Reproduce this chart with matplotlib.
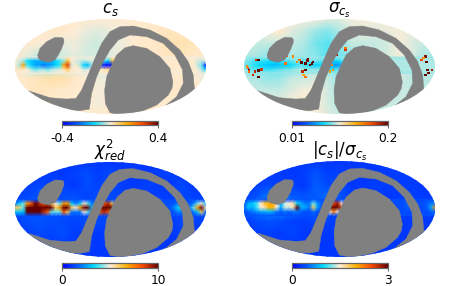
import numpy as np
import matplotlib
matplotlib.use('Agg')
import matplotlib.pyplot as plt
from matplotlib.colors import LinearSegmentedColormap, Normalize, LogNorm
from matplotlib.patches import Ellipse, Polygon

W, H = 449, 286

# planck style colour table
planck = LinearSegmentedColormap.from_list('planck', [
    (0.0, (0, 0, 1)), (0.16, (0, 0.35, 1)), (0.33, (0, 0.87, 1)), (0.5, (1, 0.93, 0.85)),
    (0.67, (1, 0.7, 0)), (0.83, (1, 0.29, 0)), (1.0, (0.39, 0, 0))])

# mask outlines, read in panel 1 of the 3x zoom: centre (331,200), semi axes 286,143
island_x = [187, 165, 140, 120, 113, 115, 124, 145, 165, 176, 184, 192, 191]
island_y = [113, 112, 125, 145, 165, 175, 182, 187, 180, 163, 148, 127, 116]
dshape_x = [400, 440, 480, 510, 519, 516, 505, 470, 430, 370, 330, 316, 314, 320, 335, 350, 375]
dshape_y = [137, 145, 170, 205, 245, 265, 285, 315, 332, 345, 338, 310, 270, 230, 195, 165, 143]
band_x = [85, 150, 200, 228, 245, 262, 285, 305, 330, 360, 400, 450, 500, 540, 565, 580, 583, 600,
          490, 530, 550, 548, 525, 490, 440, 390, 355, 330, 310, 290, 275, 268, 240, 180, 130]
band_y = [272, 293, 297, 295, 270, 230, 175, 130, 95, 80, 78, 90, 115, 150, 185, 225, 262, 300,
          322, 290, 250, 210, 165, 130, 110, 105, 120, 150, 185, 230, 280, 327, 332, 330, 312]

bg_y = [1, 0.75, 0.5, 0.25, 0, -0.25, -0.5, -0.75, -1]
plane_y = [0.2, 0.12, 0.03, -0.06, -0.14]

cs_bg = [
    [.008, .008, .008, .008, .008, .008, .004, .004, .004, .004, .008, .008, .008, .008, .008, .008, .008],
    [.008, .008, .008, .012, .008, .000, -.01, -.016, -.01, -.004, .004, .008, .012, .018, .016, .014, .012],
    [.008, .008, .004, -.004, -.01, -.008, -.02, -.028, -.01, -.008, .008, .008, .012, .022, .022, .016, .012],
    [.008, -.01, -.03, -.03, -.022, -.012, -.024, -.028, -.016, -.008, .004, .008, .012, .016, .018, .012, .008],
    [.008, -.03, -.05, -.05, -.03, -.02, -.02, -.02, -.012, -.008, .004, .008, .008, .01, .012, -.012, -.012],
    [.008, .012, .02, .03, .03, .012, .00, -.008, -.012, -.012, .008, .008, .008, .008, .008, .004, -.012],
    [.012, .012, .016, .012, .008, .004, .004, -.004, .004, .008, .008, .008, .008, .008, .012, .012, .008],
    [.008, .008, .012, .012, .008, .008, .004, -.008, .004, .012, .008, .008, .008, .008, .012, .008, .008],
    [.008, .008, .008, .008, .008, .008, .008, .008, .008, .008, .008, .008, .008, .008, .008, .008, .008],
]
cs_upper = [.01, -.02, -.05, -.12, -.16, -.18, -.18, -.16, -.16, -.18, -.14, -.10, -.06, .10, .00, -.02,
            -.03, -.04, -.03, -.02, -.05, -.06, -.10, -.15, .10, .008, .008, .008, .008, .008, .008, .008,
            .008, .008, .008, .008, .008, .008, .008, .008, .008, .008, .008, .008, .008, -.02, -.03, -.02]
cs_mid = [.01, -.05, .15, -.10, -.15, -.20, -.20, -.25, -.22, -.20, -.15, -.12, .15, .30, -.02, .01,
          -.04, -.15, -.17, -.05, -.10, -.30, -.38, -.40, -.38, .008, .008, .008, .008, .008, .008, .008,
          .008, .008, .008, .008, .008, .008, .008, .008, .008, .008, .008, .008, .008, -.03, -.08, -.35]
cs_lower = [.01, .02, .01, .00, -.05, -.08, -.06, -.05, -.08, -.05, -.03, -.02, .02, .08, .01, .00,
            .00, -.03, -.02, .00, .01, .01, .03, .05, .01, .008, .008, .008, .008, .008, .008, .008,
            .008, .008, .008, .008, .008, .008, .008, .008, .008, .008, .008, .008, .008, .00, -.05, -.15]
cs_rim = -0.005

sig_bg = [
    [.044, .044, .044, .044, .044, .044, .044, .042, .042, .044, .044, .044, .044, .044, .044, .044, .044],
    [.044, .042, .044, .046, .042, .040, .037, .035, .038, .041, .043, .042, .043, .044, .043, .042, .044],
    [.042, .040, .040, .041, .040, .038, .034, .032, .036, .040, .040, .040, .041, .044, .042, .040, .040],
    [.038, .038, .036, .036, .038, .037, .035, .032, .034, .036, .038, .040, .041, .044, .042, .038, .038],
    [.037, .035, .034, .032, .034, .038, .037, .035, .034, .035, .038, .038, .040, .043, .040, .038, .038],
    [.038, .038, .036, .037, .040, .040, .042, .040, .036, .037, .039, .040, .040, .041, .039, .038, .040],
    [.040, .040, .040, .040, .042, .044, .044, .041, .038, .040, .040, .040, .040, .040, .040, .040, .040],
    [.042, .042, .042, .042, .044, .046, .044, .041, .038, .040, .040, .040, .040, .040, .040, .040, .040],
    [.044, .044, .044, .044, .044, .044, .044, .042, .040, .040, .040, .040, .040, .040, .040, .040, .040],
]
sig_upper = [.037, .034, .032, .030, .030, .030, .028, .028, .027, .030, .032, .032, .034, .036, .032, .032,
             .034, .035, .034, .032, .032, .030, .028, .028, .030, .038, .038, .038, .038, .038, .038, .038,
             .038, .038, .038, .038, .038, .038, .038, .038, .038, .038, .038, .038, .038, .038, .038, .038]
sig_mid = [.034, .032, .030, .028, .026, .025, .025, .024, .024, .025, .025, .026, .028, .030, .032, .030,
           .028, .026, .026, .028, .029, .026, .021, .020, .024, .038, .038, .038, .038, .038, .038, .038,
           .038, .038, .038, .038, .038, .038, .038, .038, .038, .038, .038, .038, .038, .038, .038, .038]
sig_lower = [.037, .035, .032, .032, .032, .030, .030, .030, .032, .032, .034, .034, .036, .038, .038, .036,
             .036, .036, .036, .036, .034, .030, .030, .032, .034, .038, .038, .038, .038, .038, .038, .038,
             .038, .038, .038, .038, .038, .038, .038, .038, .038, .038, .038, .038, .038, .038, .038, .038]
sig_rim = 0.037
# bright sources in the sigma map
sig_hot_x = [-.965, -.95, -.97, -.85, -.89, -.85, -.88, -.91, -.85, -.55, -.49, -.42, -.36, -.33, -.29,
             -.36, -.39, -.28, -.57, -.08, -.10, -.03, .06, .06, .90, .91, .92, .90, .97, .86, -.36, -.07, -.38,
             -.40, -.34, -.31, -.45, -.95, -.82, .93, .88]
sig_hot_y = [-.03, -.07, .00, -.08, -.10, .14, .14, -.17, -.21, .22, .21, .14, .07, .15, .07,
             -.07, -.10, .10, .07, .03, -.10, .24, .35, .39, .21, .10, -.07, -.17, -.07, .14, -.21, -.07, -.17,
             .09, .13, .03, .10, -.10, -.06, -.13, .18]
sig_hot_v = [.12, .20, .09, .20, .15, .20, .14, .15, .20, .12, .09, .10, .20, .20, .20,
             .20, .15, .20, .10, .09, .08, .15, .14, .10, .18, .20, .20, .20, .16, .12, .10, .09, .08,
             .20, .18, .20, .09, .11, .14, .20, .09]

chi_bg = [
    [1.0, 1.0, 1.0, 1.0, 1.0, 1.0, 1.0, 1.0, 1.0, 1.0, 1.0, 1.0, 1.0, 1.0, 1.0, 1.0, 1.0],
    [1.0, 1.0, 1.0, 1.1, 1.0, 1.2, 1.4, 1.1, 1.3, 1.0, 1.1, 1.0, 1.1, 1.2, 1.0, 1.0, 1.0],
    [1.0, 1.1, 1.3, 1.1, 1.2, 1.0, 1.4, 1.2, 1.3, 1.1, 1.0, 1.2, 1.1, 1.0, 1.3, 1.0, 1.0],
    [1.2, 1.3, 1.5, 1.3, 1.4, 1.5, 1.2, 1.4, 1.3, 1.2, 1.1, 1.0, 1.1, 1.1, 1.3, 1.2, 1.2],
    [1.3, 1.5, 1.6, 1.6, 1.4, 1.5, 1.4, 1.3, 1.3, 1.3, 1.1, 1.0, 1.0, 1.0, 1.3, 1.4, 1.3],
    [1.2, 1.4, 1.5, 1.4, 1.3, 1.2, 1.4, 1.3, 1.2, 1.4, 1.1, 1.0, 1.0, 1.0, 1.3, 1.2, 1.2],
    [1.0, 1.1, 1.3, 1.2, 1.4, 1.1, 1.1, 1.0, 1.2, 1.2, 1.0, 1.0, 1.0, 1.0, 1.2, 1.0, 1.0],
    [1.0, 1.0, 1.1, 1.2, 1.1, 1.0, 1.1, 1.0, 1.1, 1.3, 1.0, 1.0, 1.0, 1.0, 1.0, 1.0, 1.0],
    [1.0, 1.0, 1.0, 1.0, 1.0, 1.0, 1.0, 1.0, 1.0, 1.1, 1.0, 1.0, 1.0, 1.0, 1.0, 1.0, 1.0],
]
chi_upper = [2, 3, 4, 7, 8, 10, 9, 8, 9, 6, 5, 4, 7, 7, 3, 2,
             3, 5, 4, 2, 2, 5, 8, 9, 6, 1.4, 1.4, 1.4, 1.4, 1.4, 1.4, 1.4,
             1.4, 1.4, 1.4, 1.4, 1.4, 1.4, 1.4, 1.4, 1.8, 2, 1.4, 1.4, 2, 4, 5, 3]
chi_mid = [6, 6, 4, 10, 10, 10, 10, 10, 10, 10, 6, 7, 10, 10, 6, 5,
           7, 10, 10, 3, 4, 10, 10, 10, 10, 1.4, 1.4, 1.4, 1.4, 1.4, 1.4, 1.4,
           1.4, 1.4, 1.4, 1.4, 1.4, 1.4, 1.4, 2, 3, 3.5, 2, 2, 4, 7, 10, 5]
chi_lower = [3, 3, 3, 10, 10, 10, 10, 9, 8, 4, 4, 4, 8, 6, 2, 2,
             2, 5, 4, 2, 2, 8, 9, 8, 4, 1.4, 1.4, 1.4, 1.4, 1.4, 1.4, 1.4,
             1.4, 1.4, 1.4, 1.4, 1.4, 1.4, 1.4, 1.4, 2, 2, 1.4, 1.4, 2, 3, 6, 2]
chi_rim = 1.4

rat_bg = [
    [.30, .30, .30, .30, .30, .30, .30, .30, .30, .30, .30, .30, .30, .30, .30, .30, .30],
    [.30, .30, .30, .32, .30, .35, .45, .35, .35, .30, .30, .30, .32, .35, .30, .30, .30],
    [.30, .32, .38, .32, .35, .30, .50, .40, .40, .30, .30, .35, .32, .30, .35, .30, .30],
    [.35, .45, .60, .60, .50, .45, .50, .55, .45, .35, .32, .30, .30, .32, .35, .32, .32],
    [.40, .60, .70, .70, .60, .50, .50, .45, .35, .40, .32, .30, .30, .32, .35, .40, .38],
    [.32, .40, .45, .40, .35, .32, .38, .35, .32, .38, .32, .30, .30, .30, .32, .30, .30],
    [.30, .32, .35, .32, .38, .30, .30, .30, .32, .35, .30, .30, .30, .30, .30, .30, .30],
    [.30, .30, .30, .32, .30, .30, .30, .30, .30, .35, .30, .30, .30, .30, .30, .30, .30],
    [.30, .30, .30, .30, .30, .30, .30, .30, .30, .30, .30, .30, .30, .30, .30, .30, .30],
]
rat_upper = [.5, .8, .9, 1.1, 1.5, 1.9, 2.0, 2.1, 1.5, .8, 1.4, 1.5, 1.6, 1.0, .8, .6,
             .6, 1.2, .7, .5, .5, 2.0, 2.5, 2.8, 1.5, .4, .4, .4, .4, .4, .4, .4,
             .4, .4, .4, .4, .4, .4, .4, .4, .5, .5, .4, .4, .4, .5, .6, .6]
rat_mid = [.6, .9, .8, 1.1, 1.5, 1.6, 2.0, 2.0, 1.5, .8, 1.4, 1.4, 1.6, 3.0, .8, .8,
           .6, 1.8, .8, .4, .8, 3.0, 3.0, 3.0, 2.5, .4, .4, .4, .4, .4, .4, .4,
           .4, .4, .4, .4, .4, .4, .4, .4, .5, .5, .4, .4, .4, .5, .8, 2.2]
rat_lower = [.4, .5, .6, .7, .8, .8, .9, .8, .6, .5, .6, .5, .6, .6, .5, .4,
             .4, .6, .4, .3, .4, 1.5, 2.2, 1.5, .6, .4, .4, .4, .4, .4, .4, .4,
             .4, .4, .4, .4, .4, .4, .4, .4, .4, .4, .4, .4, .4, .4, .5, .6]
rat_rim = 0.42

titles = ['$c_s$', '$\\sigma_{c_s}$', '$\\chi^2_{red}$', '$|c_s|/\\sigma_{c_s}$']
title_pads = [4.3, 4.5, 3.8, 3.6]
tick_labels = [['-0.4', '0.4'], ['0.01', '0.2'], ['0', '10'], ['0', '3']]
norms = [Normalize(-0.4, 0.4), LogNorm(0.01, 0.2), Normalize(0, 10), Normalize(0, 3)]
bgs = [cs_bg, sig_bg, chi_bg, rat_bg]
uppers = [cs_upper, sig_upper, chi_upper, rat_upper]
mids = [cs_mid, sig_mid, chi_mid, rat_mid]
lowers = [cs_lower, sig_lower, chi_lower, rat_lower]
rims = [cs_rim, sig_rim, chi_rim, rat_rim]
centres = [(110.3, 66.7), (339.7, 66.7), (110.3, 209.3), (339.7, 209.0)]
A, B = 95.3, 47.7

fig = plt.figure(figsize=(W / 100, H / 100), dpi=100)

for i in range(4):
    cx, cy = centres[i]
    ax = fig.add_axes([(cx - A) / W, 1 - (cy + B) / H, 2 * A / W, 2 * B / H])
    ax.set_xlim(-1, 1)
    ax.set_ylim(-1, 1)
    ax.axis('off')
    oval = Ellipse((0, 0), 2, 2, transform=ax.transData, fc='none', ec='none')
    ax.add_patch(oval)

    X, Y = np.meshgrid(np.linspace(-1, 1, 17), bg_y)
    m = ax.pcolormesh(X, Y, np.array(bgs[i]), cmap=planck, norm=norms[i], shading='gouraud')
    m.set_clip_path(oval)

    rim = [rims[i]] * 48
    C = np.array([rim, uppers[i], mids[i], lowers[i], rim])
    X2, Y2 = np.meshgrid(np.linspace(-1, 1, 48), plane_y)
    m2 = ax.pcolormesh(X2, Y2, C, cmap=planck, norm=norms[i], shading='gouraud')
    m2.set_clip_path(oval)

    if i == 1:
        sc = ax.scatter(sig_hot_x, sig_hot_y, c=sig_hot_v, s=3, marker='s', linewidths=0,
                        cmap=planck, norm=norms[i], zorder=3)
        sc.set_clip_path(oval)

    for xs, ys in [(island_x, island_y), (dshape_x, dshape_y), (band_x, band_y)]:
        pts = np.column_stack([(np.array(xs) - 331) / 286, (200 - np.array(ys)) / 143])
        p = Polygon(pts, closed=True, fc='#808080', ec='#808080', lw=0.3, zorder=4)
        ax.add_patch(p)
        p.set_clip_path(oval)

    # y given so matplotlib does not push the title above the axes
    ax.set_title(titles[i], fontsize=12, y=1.0, pad=title_pads[i])

    # colour bar under the map
    left, right = cx - 48, cx + 48
    top = cy + 54
    cax = fig.add_axes([left / W, 1 - (top + 4.8) / H, (right - left) / W, 4.8 / H])
    sm = plt.cm.ScalarMappable(norm=norms[i], cmap=planck)
    cb = fig.colorbar(sm, cax=cax, orientation='horizontal')
    cb.minorticks_off()
    cb.set_ticks([norms[i].vmin, norms[i].vmax])
    cb.set_ticklabels(tick_labels[i])
    cb.ax.tick_params(labelsize=8.8, length=2, width=0.6, color='#444444', pad=2.5)
    cb.outline.set_edgecolor('#666666')
    cb.outline.set_linewidth(0.9)

fig.savefig('out.png', dpi=100)
